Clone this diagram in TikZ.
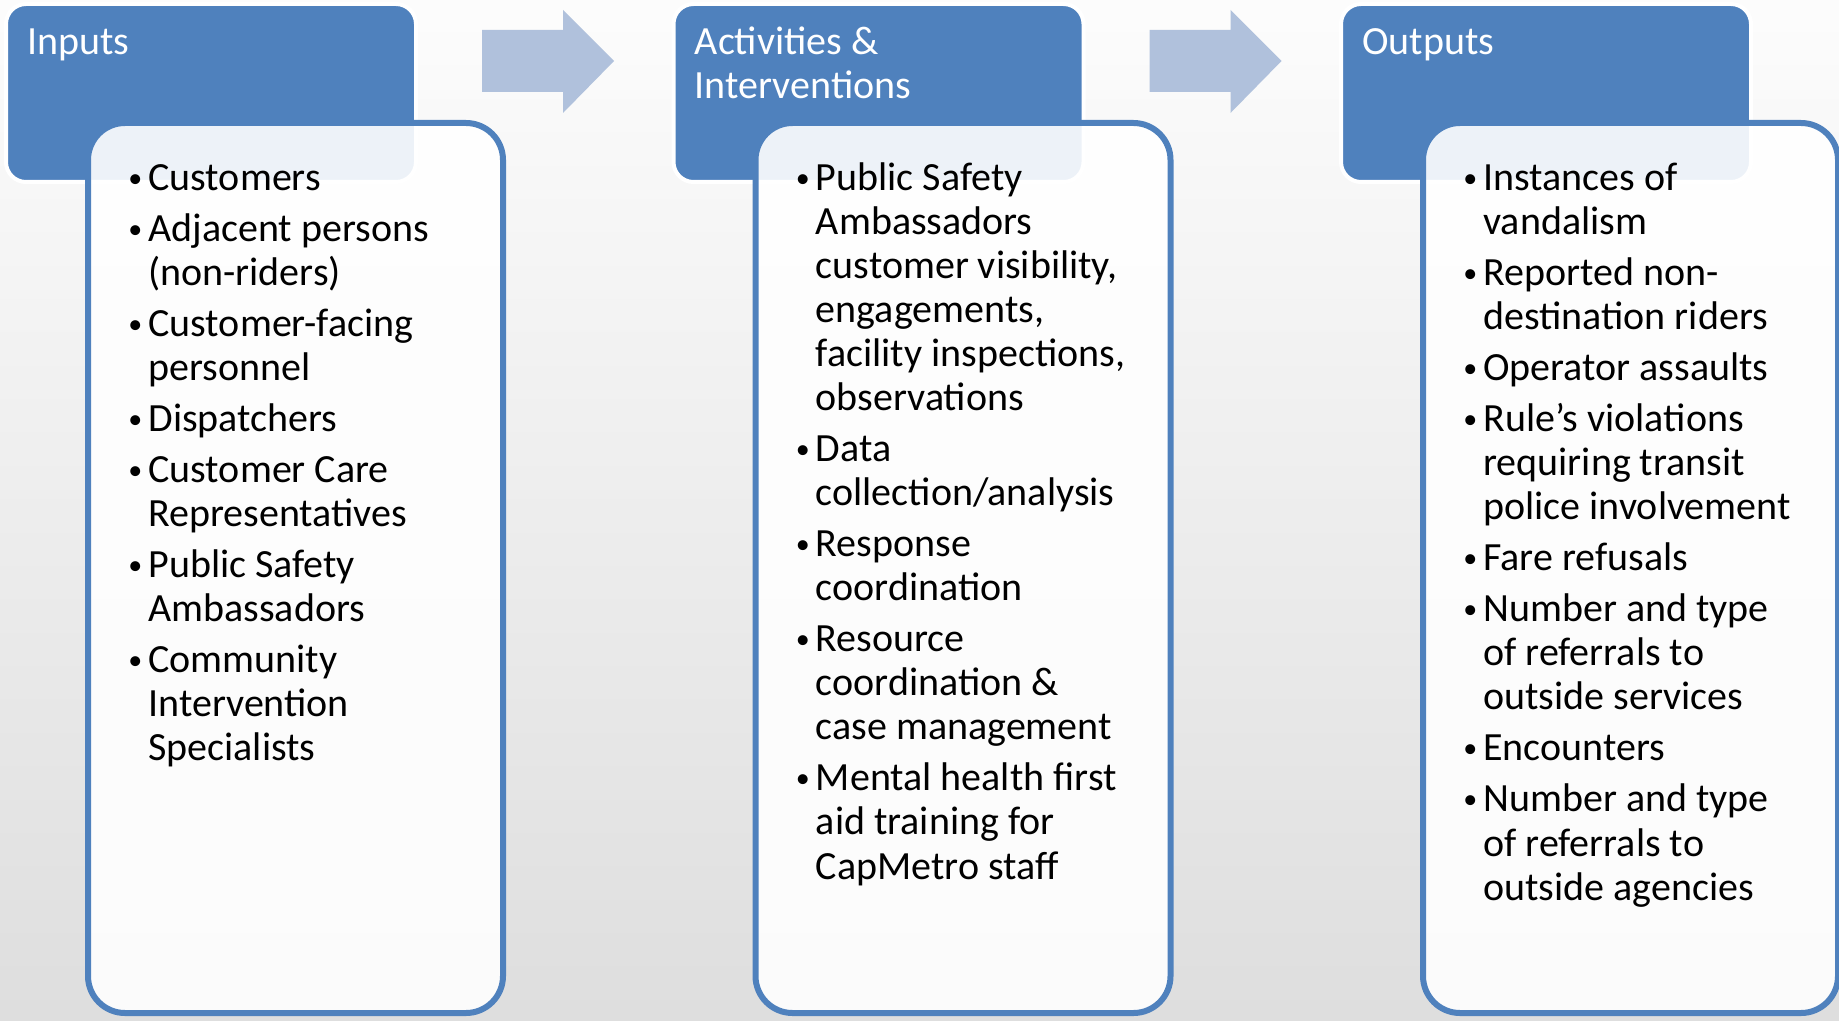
\documentclass[tikz,border=0pt]{standalone}
\usepackage{fontspec}
\setmainfont{Carlito}
\definecolor{hdr}{RGB}{79,129,189}
\definecolor{arr}{RGB}{176,193,220}
\newcommand\smallbul{{\fontsize{14pt}{14pt}\selectfont\raisebox{1.8pt}{\textbullet}}}
\newcommand\itm[1]{\par\noindent\hangindent=13pt\hangafter=1\makebox[13pt][l]{\hspace{3pt}\smallbul}#1}
\newcommand\bodytext[1]{\parbox[t]{200pt}{\fontsize{20pt}{22pt}\selectfont\setlength\parskip{3.5pt}#1}}
\tikzset{
  header/.style={draw=white, line width=2pt, fill=hdr, rounded corners=10pt},
  panel/.style={draw=hdr, line width=3pt, fill=white, fill opacity=0.9, rounded corners=18.5pt},
  blockarrow/.style={fill=arr, draw=none},
  title/.style={anchor=base west, inner sep=0pt, text=white, font=\fontsize{20pt}{22pt}\selectfont, align=left},
  body/.style={anchor=base west, inner sep=0pt, text=black}
}
\begin{document}
\begin{tikzpicture}[x=0.5pt,y=-0.5pt]
\useasboundingbox (0,0) rectangle (1839,1021);
\shade[top color=white!99!black, bottom color=white!87!black] (0,0) rectangle (1839,1021);
% headers
\foreach \i in {0,1,2}{
  \begin{scope}[shift={(\i*667.5,0)}]
    \draw[header] (6,4) rectangle (416,182);
  \end{scope}
}
% arrows
\foreach \i in {0,1}{
  \begin{scope}[shift={(\i*667.5,0)}]
    \fill[blockarrow] (482,30) -- (563,30) -- (563,10) -- (614,61) -- (563,113) -- (563,92) -- (482,92) -- cycle;
  \end{scope}
}
% panels
\foreach \i in {0,1,2}{
  \begin{scope}[shift={(\i*667.5,0)}]
    \draw[panel] (88,123) rectangle (503,1013);
  \end{scope}
}
% titles
\node[title] (tin) at (27,55) {Inputs};
\node[title] (tact) at (694.5,55) {\parbox[t]{200pt}{\fontsize{20pt}{22pt}\selectfont Activities \&\\Interventions}};
\node[title] (tout) at (1362,55) {Outputs};
% bodies
\node[body] (bin) at (122,191) {\bodytext{%
\itm{Customers}
\itm{Adjacent persons\\(non-riders)}
\itm{Customer-facing\\personnel}
\itm{Dispatchers}
\itm{Customer Care\\Representatives}
\itm{Public Safety\\Ambassadors}
\itm{Community\\Intervention\\Specialists}}};
\node[body] (bact) at (789.5,191) {\bodytext{%
\itm{Public Safety\\Ambassadors\\customer visibility,\\engagements,\\facility inspections,\\observations}
\itm{Data\\collection/analysis}
\itm{Response\\coordination}
\itm{Resource\\coordination \&\\case management}
\itm{Mental health first\\aid training for\\CapMetro staff}}};
\node[body] (bout) at (1457,191) {\bodytext{%
\itm{Instances of\\vandalism}
\itm{Reported non-\\destination riders}
\itm{Operator assaults}
\itm{Rule's violations\\requiring transit\\police involvement}
\itm{Fare refusals}
\itm{Number and type\\of referrals to\\outside services}
\itm{Encounters}
\itm{Number and type\\of referrals to\\outside agencies}}};
\end{tikzpicture}
\end{document}
